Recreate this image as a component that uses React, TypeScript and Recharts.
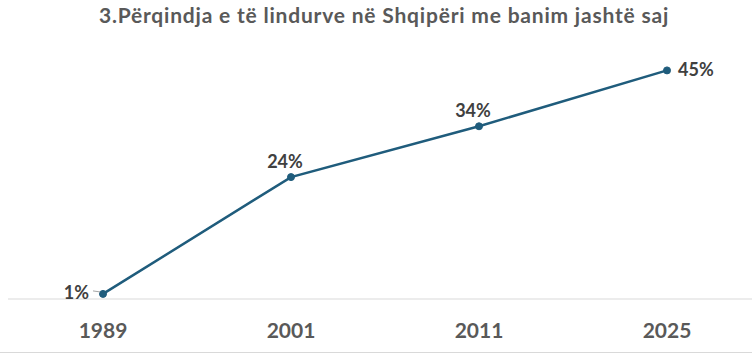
import React from 'react';
import { LineChart, Line, XAxis, YAxis, LabelList } from 'recharts';

const years = ['1989', '2001', '2011', '2025'];
const shares = [1, 24, 34, 45];
const labelSides = ['left', 'top', 'top', 'right'];

const chartData = years.map((year, i) => ({ year, share: shares[i], side: labelSides[i] }));

const FONT = 'Lato, "Open Sans", sans-serif';

function YearTick(props: any) {
  const { x, payload } = props;
  return (
    <text x={x} y={338} textAnchor="middle" fill="#595959" fontSize={21} fontWeight={700} fontFamily={FONT}>
      {payload.value}
    </text>
  );
}

function ShareLabel(props: any) {
  const { x, y, value, index } = props;
  const side = labelSides[index];
  let tx = x;
  let ty = y - 10;
  let anchor: 'start' | 'middle' | 'end' = 'middle';
  if (side === 'left') {
    tx = x - 14;
    ty = y + 5;
    anchor = 'end';
  } else if (side === 'right') {
    tx = x + 11;
    ty = y + 6;
    anchor = 'start';
  } else {
    tx = x - 6;
    ty = y - 9;
  }
  return (
    <g>
      {side === 'left' && <line x1={x - 10} y1={y - 3} x2={x - 3} y2={y - 2} stroke="#a6a6a6" strokeWidth={1} />}
      <text x={tx} y={ty} textAnchor={anchor} fill="#404040" fontSize={18} fontWeight={700} fontFamily={FONT}>
        {value}%
      </text>
    </g>
  );
}

export default function App() {
  return (
    <div style={{ position: 'absolute', left: 0, top: 0, width: 752, height: 355, background: '#fff' }}>
      <div
        style={{
          position: 'absolute',
          left: 0,
          top: 2,
          width: 768,
          textAlign: 'center',
          fontFamily: FONT,
          fontWeight: 700,
          fontSize: 21,
          letterSpacing: 0.8,
          color: '#595959',
          lineHeight: '26px',
        }}
      >
        3.Përqindja e të lindurve në Shqipëri me banim jashtë saj
      </div>
      <LineChart width={752} height={355} data={chartData} margin={{ top: 45, right: 0, bottom: 0, left: 8 }}>
        <XAxis
          dataKey="year"
          height={56}
          axisLine={{ stroke: '#d9d9d9', strokeWidth: 1 }}
          tickLine={false}
          tick={<YearTick />}
          padding={{ left: 95, right: 85 }}
          interval={0}
        />
        <YAxis hide domain={[0, 50]} />
        <Line
          dataKey="share"
          stroke="#1f5c7c"
          strokeWidth={2.5}
          dot={{ r: 3.5, fill: '#1f5c7c', stroke: '#1f5c7c', strokeWidth: 1 }}
          isAnimationActive={false}
        >
          <LabelList dataKey="share" content={<ShareLabel />} />
        </Line>
      </LineChart>
      <div style={{ position: 'absolute', left: 0, top: 352, width: 752, height: 1, background: '#d9d9d9' }} />
    </div>
  );
}
